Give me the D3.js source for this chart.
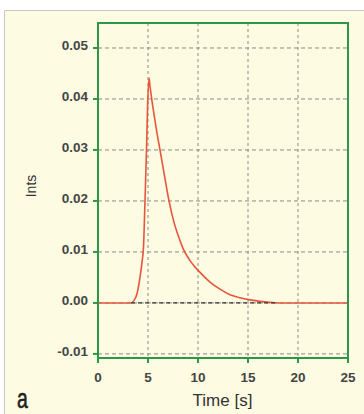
<!DOCTYPE html>
<html>
<head>
<meta charset="utf-8">
<script src="https://cdn.jsdelivr.net/npm/d3@7"></script>
<style>
  html, body { margin: 0; padding: 0; background: #ffffff; }
  svg { display: block; }
  .tick-label { font-family: Arial, "Liberation Sans", sans-serif; font-size: 13.5px; font-weight: bold; fill: #454545; }
  .axis-title { font-family: Arial, "Liberation Sans", sans-serif; fill: #333; }
  .panel-tag { font-family: Arial, "Liberation Sans", sans-serif; font-size: 27px; fill: #1e1e1e; }
</style>
</head>
<body>
<div id="chart"></div>
<script>
const timeValues = [0, 3.3, 3.6, 3.9, 4.2, 4.4, 4.55, 4.7, 4.85, 4.95, 5.1, 5.2, 5.37, 5.6, 5.9, 6.2, 6.6, 7.1, 7.6, 8.0, 8.5, 9.2, 10.2, 11.2, 12.2, 13.2, 14.2, 15.2, 16.2, 17.2, 18, 25];
const intsValues = [0, 0, 0.0005, 0.0018, 0.005, 0.008, 0.011, 0.02, 0.03, 0.038, 0.0441, 0.0425, 0.04, 0.037, 0.0333, 0.03, 0.0255, 0.02, 0.0158, 0.0133, 0.0107, 0.0083, 0.006, 0.0041, 0.0027, 0.0016, 0.001, 0.0006, 0.0003, 0.0001, 0, 0];
const baselineRange = [3.3, 18];
const xTicks = [0, 5, 10, 15, 20, 25];
const yTicks = [-0.01, 0, 0.01, 0.02, 0.03, 0.04, 0.05];

const WIDTH = 364;
const HEIGHT = 414;
const PLOT = { left: 98, right: 348, top: 23, bottom: 358 };
const GREEN = "#2e9648";

const svg = d3.select("#chart")
  .append("svg")
  .attr("width", WIDTH)
  .attr("height", HEIGHT);

// cream panel with grey top/left edge
svg.append("rect")
  .attr("x", 4).attr("y", 10)
  .attr("width", WIDTH - 4).attr("height", HEIGHT - 10)
  .attr("fill", "#fdfbe1");
svg.append("path")
  .attr("d", `M4.5,${HEIGHT}V10.5H${WIDTH}`)
  .attr("fill", "none")
  .attr("stroke", "#c8c8c8")
  .attr("stroke-width", 1);

const x = d3.scaleLinear().domain([0, 25]).range([PLOT.left, PLOT.right]);
const y = d3.scaleLinear().domain([-0.0108, 0.0549]).range([PLOT.bottom, PLOT.top]);

// grid
svg.append("g")
  .selectAll("line")
  .data(yTicks)
  .enter()
  .append("line")
  .attr("x1", PLOT.left).attr("x2", PLOT.right)
  .attr("y1", (d) => y(d)).attr("y2", (d) => y(d))
  .attr("stroke", "#8a8a8a")
  .attr("stroke-width", 1)
  .attr("stroke-dasharray", "4,3");

svg.append("g")
  .selectAll("line")
  .data(xTicks.filter((d) => d > 0 && d < 25))
  .enter()
  .append("line")
  .attr("x1", (d) => x(d)).attr("x2", (d) => x(d))
  .attr("y1", PLOT.top).attr("y2", PLOT.bottom)
  .attr("stroke", "#8a8a8a")
  .attr("stroke-width", 1)
  .attr("stroke-dasharray", "3,3");

// curve
const line = d3.line()
  .x((d) => x(d[0]))
  .y((d) => y(d[1]))
  .curve(d3.curveMonotoneX);

svg.append("path")
  .datum(timeValues.map((t, i) => [t, intsValues[i]]))
  .attr("d", line)
  .attr("fill", "none")
  .attr("stroke", "#e6553c")
  .attr("stroke-width", 1.6);

// dark dashed baseline under the peak
svg.append("line")
  .attr("x1", x(baselineRange[0])).attr("x2", x(baselineRange[1]))
  .attr("y1", y(0)).attr("y2", y(0))
  .attr("stroke", "#333")
  .attr("stroke-width", 1.2)
  .attr("stroke-dasharray", "4,3");

// frame
svg.append("rect")
  .attr("x", PLOT.left).attr("y", PLOT.top)
  .attr("width", PLOT.right - PLOT.left)
  .attr("height", PLOT.bottom - PLOT.top)
  .attr("fill", "none")
  .attr("stroke", GREEN)
  .attr("stroke-width", 2);

// ticks
const yAxis = svg.append("g");
yAxis.selectAll("line")
  .data(yTicks)
  .enter()
  .append("line")
  .attr("x1", PLOT.left - 5).attr("x2", PLOT.left)
  .attr("y1", (d) => y(d)).attr("y2", (d) => y(d))
  .attr("stroke", GREEN)
  .attr("stroke-width", 2);
yAxis.selectAll("text")
  .data(yTicks)
  .enter()
  .append("text")
  .attr("class", "tick-label")
  .attr("x", PLOT.left - 10)
  .attr("y", (d) => y(d) + 2)
  .attr("text-anchor", "end")
  .text((d) => d3.format(".2f")(d).replace("\u2212", "-"));

const xAxis = svg.append("g");
xAxis.selectAll("line")
  .data(xTicks)
  .enter()
  .append("line")
  .attr("x1", (d) => x(d)).attr("x2", (d) => x(d))
  .attr("y1", PLOT.bottom).attr("y2", PLOT.bottom + 5)
  .attr("stroke", GREEN)
  .attr("stroke-width", 2);
xAxis.selectAll("text")
  .data(xTicks)
  .enter()
  .append("text")
  .attr("class", "tick-label")
  .attr("x", (d) => x(d))
  .attr("y", PLOT.bottom + 24)
  .attr("text-anchor", "middle")
  .text((d) => d);

svg.append("text")
  .attr("class", "axis-title")
  .attr("font-size", 14)
  .attr("transform", "translate(36,186) rotate(-90)")
  .attr("text-anchor", "middle")
  .text("Ints");

svg.append("text")
  .attr("class", "axis-title")
  .attr("font-size", 17)
  .attr("x", 222.5)
  .attr("y", 406)
  .attr("text-anchor", "middle")
  .text("Time [s]");

svg.append("text")
  .attr("class", "panel-tag")
  .attr("transform", "translate(17,408) scale(0.72,1)")
  .attr("stroke", "#1e1e1e")
  .attr("stroke-width", 0.6)
  .text("a");
</script>
</body>
</html>
